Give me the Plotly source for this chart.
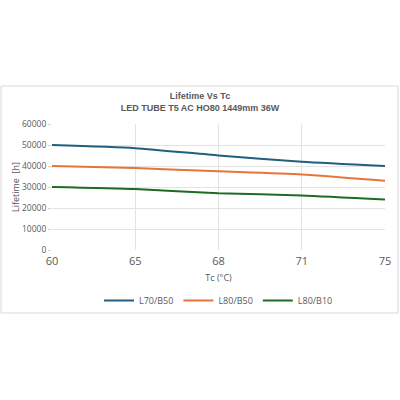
import plotly.graph_objects as go

tc = ["60", "65", "68", "71", "75"]
l70_b50 = [50000, 48500, 45000, 42000, 40000]
l80_b50 = [40000, 39000, 37500, 36000, 33000]
l80_b10 = [30000, 29000, 27000, 26000, 24000]
names = ["L70/B50", "L80/B50", "L80/B10"]
colors = ["#1f5f7f", "#e8743b", "#1e6b22"]
y_ticks = [0, 10000, 20000, 30000, 40000, 50000, 60000]

fig = go.Figure()
for name, vals, c in zip(names, [l70_b50, l80_b50, l80_b10], colors):
    fig.add_trace(go.Scatter(x=tc, y=vals, name=name, mode="lines",
                             line=dict(color=c, width=2, shape="spline", smoothing=0.6)))

L, R, T, B = 52, 15, 124, 150
W = 400 - L - R
H = 400 - T - B
fig.update_layout(
    width=400, height=400,
    margin=dict(l=L, r=R, t=T, b=B, autoexpand=False),
    paper_bgcolor="white", plot_bgcolor="white",
    font=dict(family="Open Sans", color="#595959"),
    title=dict(text="<b>Lifetime Vs Tc<br>LED TUBE T5 AC HO80 1449mm 36W</b>",
               x=0.5, xanchor="center", y=1 - 99 / 400, yanchor="top",
               font=dict(family="Liberation Sans", size=9, color="#595959")),
    xaxis=dict(type="category", range=[0, 4], showgrid=True, gridcolor="#e3e3e3",
               zeroline=False, showline=False, tickfont=dict(size=11), automargin=False,
               ticks="", ticklabelstandoff=3,
               title=dict(text="Tc (°C)", font=dict(size=9), standoff=7)),
    yaxis=dict(range=[0, 60000], tickvals=y_ticks, tickformat="d", showgrid=True,
               gridcolor="#e3e3e3", automargin=False,
               zeroline=False, showline=False, tickfont=dict(size=8.5), ticks="outside",
               ticklen=3, tickcolor="#d0d0d0"),
    legend=dict(orientation="h", x=0.5, xanchor="center", y=(250 - 286) / H, yanchor="top",
                font=dict(size=9), itemwidth=30, tracegroupgap=0,
                bgcolor="rgba(0,0,0,0)"),
    showlegend=True,
)
fig.add_annotation(text="Lifetime  [h]", xref="paper", yref="paper",
                   x=(15 - L) / W, y=(250 - 187) / H, textangle=-90,
                   showarrow=False, font=dict(size=9, color="#595959"),
                   xanchor="center", yanchor="middle")
fig.add_shape(type="rect", xref="paper", yref="paper",
              x0=(1 - L) / W, x1=(398 - L) / W,
              y0=(250 - 313) / H, y1=(250 - 86) / H,
              line=dict(color="#d9d9d9", width=1), fillcolor="rgba(0,0,0,0)", layer="below")
fig.write_html("out.html", config={"displayModeBar": False},
               post_script="document.body.style.margin='0';document.body.style.overflow='hidden';")
